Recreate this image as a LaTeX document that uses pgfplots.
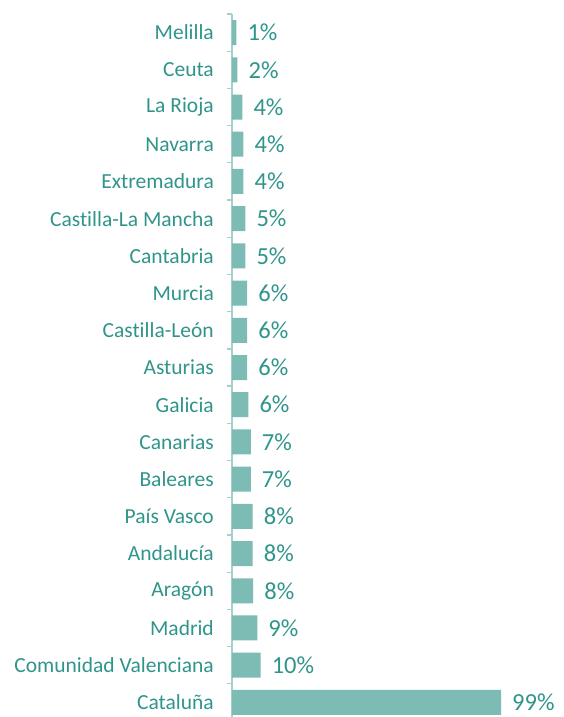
\documentclass[border=0pt]{standalone}
\usepackage{pgfplots}
\pgfplotsset{compat=1.18}
\usepackage{pgfplotstable}
\usepackage{fontspec}
\setmainfont{Carlito}[Ligatures=NoCommon]
\definecolor{txt}{HTML}{2F958A}
\definecolor{barc}{HTML}{7DBBB5}
\definecolor{axc}{HTML}{A6D0CB}
\pgfplotstableread[col sep=comma]{
idx,val,lab
0,1.6,1
1,2.0,2
2,3.8,4
3,4.2,4
4,4.2,4
5,4.9,5
6,4.9,5
7,5.6,6
8,5.6,6
9,5.6,6
10,6.0,6
11,6.9,7
12,6.9,7
13,7.6,8
14,7.6,8
15,7.8,8
16,9.3,9
17,10.5,10
18,98.9,99
}\datatable
\begin{document}
\begin{tikzpicture}
\begin{axis}[
  name=ax,
  scale only axis,
  width=272pt, height=707pt,
  xmin=0, xmax=100,
  ymin=-0.5, ymax=18.5,
  y dir=reverse,
  xbar, bar width=25pt,
  axis x line=none,
  axis y line*=left,
  y axis line style={draw=axc, line width=1.3pt},
  ytick={0,...,18},
  yticklabels={Melilla,Ceuta,La Rioja,Navarra,Extremadura,Castilla-La Mancha,Cantabria,Murcia,Castilla-León,Asturias,Galicia,Canarias,Baleares,País Vasco,Andalucía,Aragón,Madrid,Comunidad Valenciana,Cataluña},
  major tick length=0pt,
  minor ytick={-0.5,0.5,...,18.5},
  minor tick length=4.5pt,
  tick align=outside,
  minor tick style={draw=axc, line width=1.3pt},
  yticklabel style={font=\fontsize{21.5}{24}\selectfont, text=txt, inner sep=0pt, anchor=east, xshift=-18pt},
  nodes near coords={\pgfplotspointmeta\%},
  point meta=explicit symbolic,
  nodes near coords style={font=\fontsize{24.5}{27}\selectfont, text=txt, anchor=west, inner sep=0pt, xshift=11pt},
  clip=false,
]
\addplot[fill=barc, draw=none] table[x=val, y=idx, meta=lab] {\datatable};
\end{axis}
\pgfresetboundingbox
\path[use as bounding box] ([xshift=-232pt,yshift=14pt]ax.north west) rectangle ([xshift=331pt,yshift=4pt]ax.south west);
\end{tikzpicture}
\end{document}
